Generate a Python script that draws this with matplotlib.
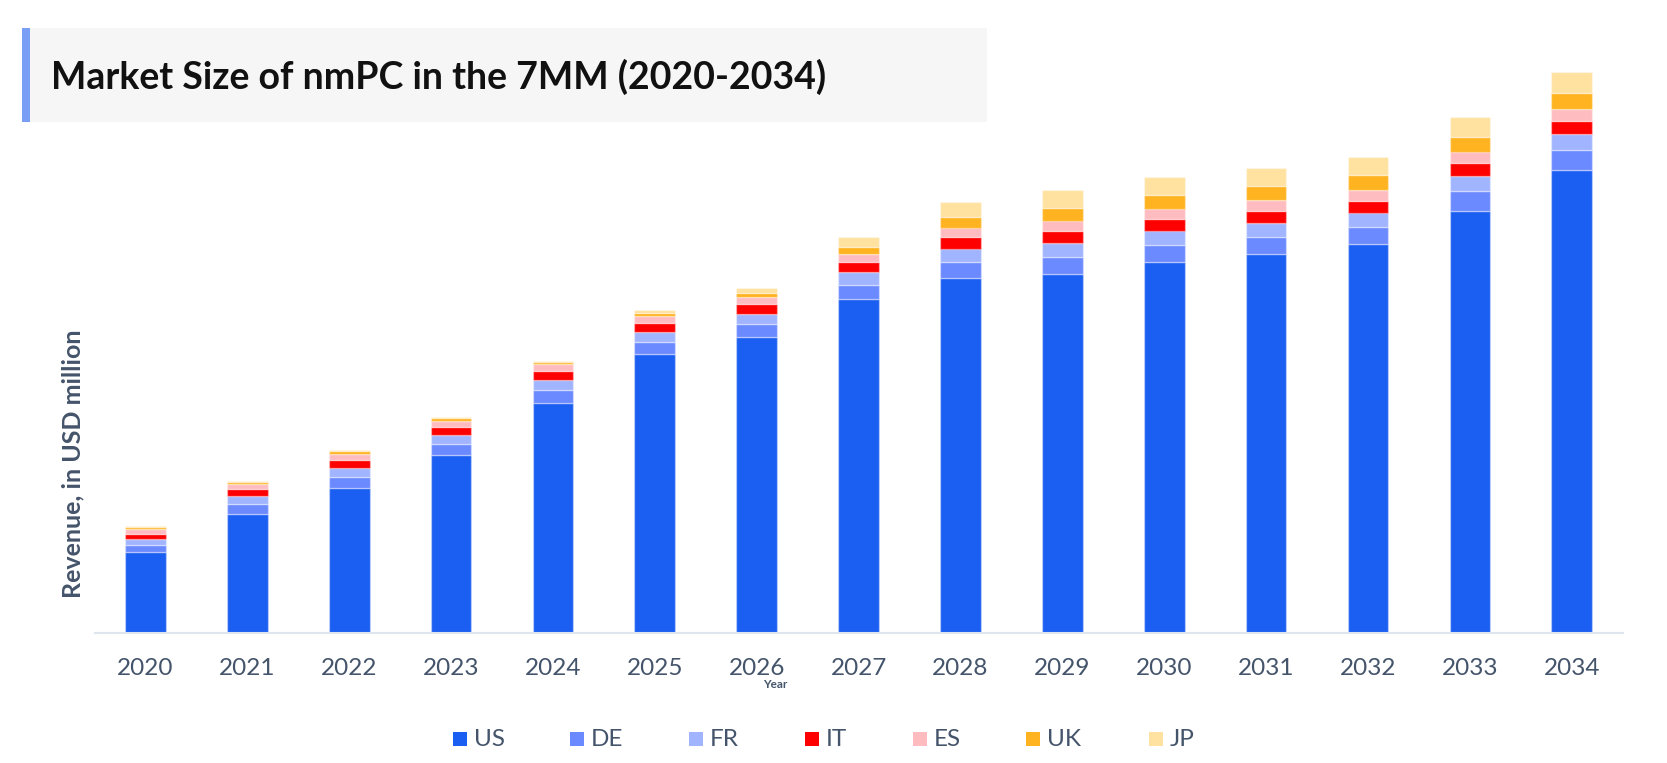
import matplotlib
matplotlib.use("Agg")
import matplotlib.pyplot as plt
from matplotlib.patches import Rectangle
import numpy as np

years = ["2020", "2021", "2022", "2023", "2024", "2025", "2026", "2027",
         "2028", "2029", "2030", "2031", "2032", "2033", "2034"]
countries = ["US", "DE", "FR", "IT", "ES", "UK", "JP"]

us = [407, 599, 727, 890, 1150, 1397, 1482, 1674, 1777, 1797, 1857, 1897, 1947, 2112, 2315]
de = [35, 47, 55, 55, 67, 60, 65, 70, 80, 85, 85, 85, 85, 99, 102]
fr = [32, 42, 45, 47, 50, 50, 52, 62, 67, 70, 72, 70, 72, 74, 80]
it = [25, 35, 42, 42, 45, 47, 47, 50, 58, 60, 58, 60, 60, 67, 65]
es = [22, 25, 30, 30, 35, 35, 35, 42, 47, 52, 52, 54, 55, 57, 60]
uk = [12, 10, 12, 12, 12, 13, 20, 34, 55, 65, 70, 70, 72, 74, 80]
jp = [4, 4, 4, 5, 3, 14, 25, 50, 73, 87, 87, 90, 92, 99, 104]

series = [us, de, fr, it, es, uk, jp]
colors = ["#1b5ef2", "#6b8aff", "#a1b4ff", "#ff0000", "#ffbcc0", "#ffb320", "#ffe2a0"]

W, H = 1667, 763
fig = plt.figure(figsize=(W / 100, H / 100), dpi=100)
fig.patch.set_facecolor("white")

# Title box
fig.patches.append(Rectangle((22 / W, 1 - 122 / H), (987 - 22) / W, (122 - 28) / H,
                             transform=fig.transFigure, facecolor="#f6f6f6",
                             edgecolor="none", zorder=0))
fig.patches.append(Rectangle((22 / W, 1 - 122 / H), 8 / W, (122 - 28) / H,
                             transform=fig.transFigure, facecolor="#7a9ef5",
                             edgecolor="none", zorder=1))
fig.text(51 / W, 1 - 77 / H, "Market Size of nmPC in the 7MM (2020-2034)",
         fontfamily="Lato", fontweight="bold", fontsize=27, color="#111111",
         ha="left", va="center")

left_px, right_px = 94.5, 1622.7
bottom_px, top_px = 633.3, 60
ax = fig.add_axes([left_px / W, 1 - bottom_px / H, (right_px - left_px) / W,
                   (bottom_px - top_px) / H])
x = np.arange(len(years))
bottom = np.zeros(len(years))
for vals, col, name in zip(series, colors, countries):
    v = np.array(vals, dtype=float)
    ax.bar(x, v, width=0.4, bottom=bottom, color=col, label=name,
           edgecolor=(1, 1, 1, 0.35), linewidth=1.0, zorder=2)
    bottom += v

ax.set_xlim(-0.5, len(years) - 0.5)
ax.set_ylim(0, (bottom_px - top_px) * 5)
ax.set_yticks([])
ax.set_xticks(x)
ax.set_xticklabels(years, fontfamily="Lato", fontsize=17.5, color="#44546a")
ax.tick_params(axis="x", length=0, pad=18)
for s in ["top", "right", "left"]:
    ax.spines[s].set_visible(False)
ax.spines["bottom"].set_color("#dfe5ee")
ax.spines["bottom"].set_linewidth(1.5)
ax.set_facecolor("none")

fig.text(73 / W, 1 - 464 / H, "Revenue, in USD million", rotation=90,
         fontfamily="Lato", fontweight="bold", fontsize=18, color="#44546a",
         ha="center", va="center")
fig.text(775 / W, 1 - 684 / H, "Year", fontfamily="Lato", fontweight="bold",
         fontsize=8.5, color="#44546a", ha="center", va="center")

# Legend
leg_x = [453, 570, 689, 805, 913, 1026, 1149]
leg_y = 739
sq = 14
for lx, col, name in zip(leg_x, colors, countries):
    fig.patches.append(Rectangle((lx / W, 1 - (leg_y + sq / 2) / H), sq / W, sq / H,
                                 transform=fig.transFigure, facecolor=col,
                                 edgecolor="none"))
    fig.text((lx + 21) / W, 1 - leg_y / H, name, fontfamily="Lato", fontsize=17.5,
             color="#44546a", ha="left", va="center")

fig.savefig("out.png", dpi=100)
